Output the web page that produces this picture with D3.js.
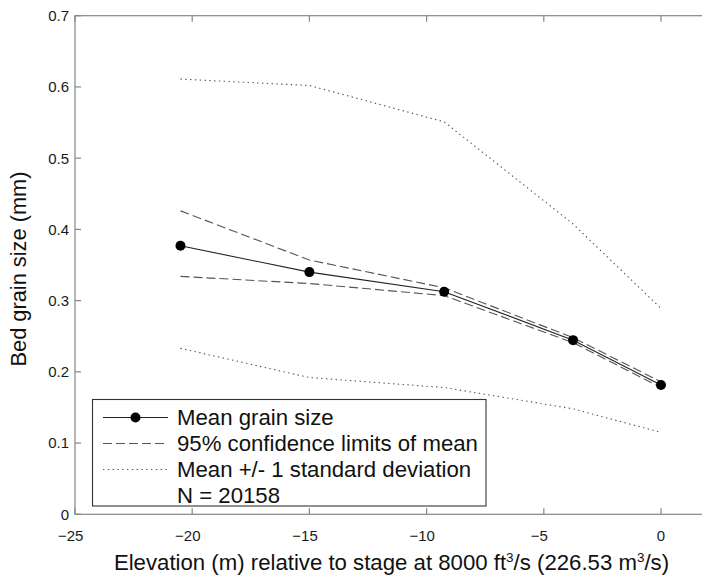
<!DOCTYPE html>
<html>
<head>
<meta charset="utf-8">
<script src="https://cdn.jsdelivr.net/npm/d3@7"></script>
<style>
  html, body { margin: 0; padding: 0; background: #fff; }
  svg { display: block; font-family: "Liberation Sans", Arial, Helvetica, sans-serif; }
</style>
</head>
<body>
<svg id="chart" width="702" height="575"></svg>
<script>
// Elevation (m) of each sampled stage band
const elevation = [-20.5, -15, -9.25, -3.75, 0];
// Mean bed grain size (mm)
const meanSize = [0.377, 0.340, 0.3125, 0.2445, 0.1815];
// 95% confidence limits of the mean
const ciUpper = [0.426, 0.357, 0.318, 0.248, 0.186];
const ciLower = [0.334, 0.324, 0.307, 0.241, 0.178];
// Mean +/- one standard deviation
const sdUpper = [0.611, 0.602, 0.551, 0.4075, 0.289];
const sdLower = [0.233, 0.192, 0.178, 0.148, 0.115];

const xTicks = [-25, -20, -15, -10, -5, 0];
const yTicks = [0, 0.1, 0.2, 0.3, 0.4, 0.5, 0.6, 0.7];
const legendLabels = [
  "Mean grain size",
  "95% confidence limits of mean",
  "Mean +/- 1 standard deviation",
  "N = 20158"
];

const svg = d3.select("#chart");
const axisColor = "#858585";

const x = d3.scaleLinear().domain([-25, 5]).range([75, 778.2]);
const y = d3.scaleLinear().domain([0, 0.7]).range([514.3, 15.7]);

// Plot frame (extends past the right edge of the page)
const [x0, x1] = x.range();
const [yb, yt] = y.range();
svg.append("rect")
  .attr("x", x0).attr("y", yt)
  .attr("width", x1 - x0).attr("height", yb - yt)
  .attr("fill", "none").attr("stroke", axisColor).attr("stroke-width", 1.2);

const fmtX = v => (v < 0 ? "\u2212" : "") + Math.abs(v);

// Bottom and top ticks, pointing inward
const tickLen = 6;
const xt = svg.append("g");
xTicks.forEach(v => {
  const px = x(v);
  xt.append("line").attr("x1", px).attr("x2", px).attr("y1", yb).attr("y2", yb - tickLen)
    .attr("stroke", axisColor).attr("stroke-width", 1.2);
  xt.append("line").attr("x1", px).attr("x2", px).attr("y1", yt).attr("y2", yt + tickLen)
    .attr("stroke", axisColor).attr("stroke-width", 1.2);
  // digits centred under the tick, minus sign hanging to the left
  const lbl = xt.append("text")
    .attr("y", 541).attr("font-size", 15).attr("fill", "#1a1a1a")
    .attr("text-anchor", "end").text(fmtX(v));
  const probe = xt.append("text").attr("font-size", 15).text(String(Math.abs(v)));
  const w = probe.node().getComputedTextLength();
  probe.remove();
  lbl.attr("x", px + w / 2);
});

// Left ticks and labels
const ytg = svg.append("g");
yTicks.forEach(v => {
  const py = y(v);
  ytg.append("line").attr("x1", x0).attr("x2", x0 + tickLen).attr("y1", py).attr("y2", py)
    .attr("stroke", axisColor).attr("stroke-width", 1.2);
  ytg.append("text")
    .attr("x", 69).attr("y", py).attr("dy", "0.36em")
    .attr("text-anchor", "end").attr("font-size", 15).attr("fill", "#1a1a1a")
    .text(d3.format("~g")(v));
});

// Axis titles
svg.append("text")
  .attr("transform", "translate(26,269) rotate(-90)")
  .attr("text-anchor", "middle").attr("font-size", 21.8).attr("fill", "#111")
  .text("Bed grain size (mm)");

const xl = svg.append("text")
  .attr("x", 391.5).attr("y", 570)
  .attr("text-anchor", "middle").attr("font-size", 22.2).attr("fill", "#111");
xl.append("tspan").text("Elevation (m) relative to stage at 8000 ft");
xl.append("tspan").attr("font-size", 13.5).attr("dy", -8).text("3");
xl.append("tspan").attr("dy", 8).text("/s (226.53 m");
xl.append("tspan").attr("font-size", 13.5).attr("dy", -8).text("3");
xl.append("tspan").attr("dy", 8).text("/s)");

// Series
const pts = vals => elevation.map((e, i) => [e, vals[i]]);
const line = d3.line().x(d => x(d[0])).y(d => y(d[1]));

const styles = {
  solid:  { stroke: "#222", width: 1.1, dash: null },
  dashed: { stroke: "#555", width: 1.1, dash: "9,4" },
  dotted: { stroke: "#555", width: 1.1, dash: "1.4,3.4" }
};

const series = [
  { vals: sdUpper, s: styles.dotted },
  { vals: sdLower, s: styles.dotted },
  { vals: ciUpper, s: styles.dashed },
  { vals: ciLower, s: styles.dashed },
  { vals: meanSize, s: styles.solid }
];
series.forEach(({ vals, s }) => {
  svg.append("path").datum(pts(vals))
    .attr("d", line).attr("fill", "none")
    .attr("stroke", s.stroke).attr("stroke-width", s.width)
    .attr("stroke-dasharray", s.dash);
});

svg.append("g").selectAll("circle")
  .data(pts(meanSize)).join("circle")
  .attr("cx", d => x(d[0])).attr("cy", d => y(d[1]))
  .attr("r", 5).attr("fill", "#000");

// Legend
const leg = svg.append("g");
leg.append("rect")
  .attr("x", 92.5).attr("y", 399.5).attr("width", 393.5).attr("height", 106.5)
  .attr("fill", "#fff").attr("stroke", "#333").attr("stroke-width", 1.1);

const rowY = [417.5, 443.5, 469.5, 495.5];
const legStyles = [styles.solid, styles.dashed, styles.dotted, null];
legendLabels.forEach((t, i) => {
  const s = legStyles[i];
  if (s) {
    leg.append("line")
      .attr("x1", 103).attr("x2", 168).attr("y1", rowY[i]).attr("y2", rowY[i])
      .attr("stroke", s.stroke).attr("stroke-width", s.width)
      .attr("stroke-dasharray", s.dash);
  }
  if (i === 0) {
    leg.append("circle").attr("cx", 135.5).attr("cy", rowY[i]).attr("r", 5).attr("fill", "#000");
  }
  leg.append("text")
    .attr("x", 177).attr("y", rowY[i]).attr("dy", "0.36em")
    .attr("font-size", 22.2).attr("fill", "#111")
    .text(t);
});
</script>
</body>
</html>
